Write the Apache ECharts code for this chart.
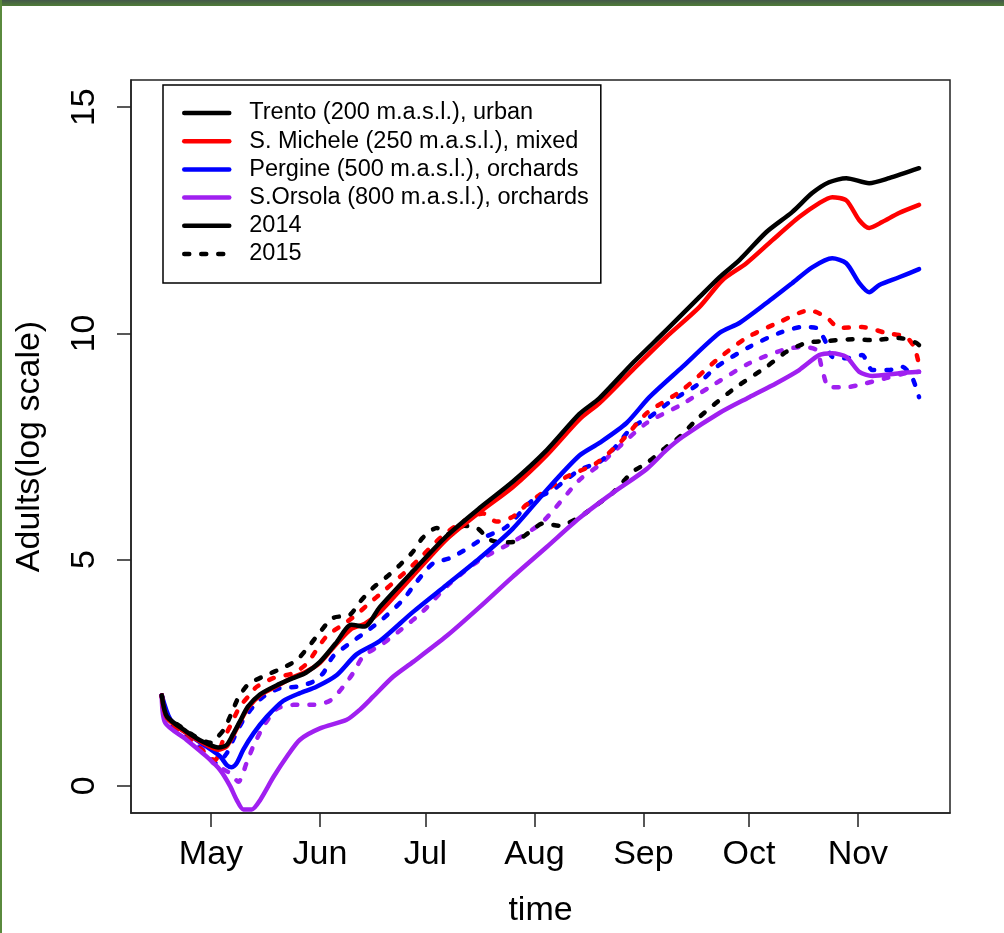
<!DOCTYPE html>
<html>
<head>
<meta charset="utf-8">
<title>Adults (log scale) over time</title>
<script src="https://cdn.jsdelivr.net/npm/echarts@6/dist/echarts.min.js"></script>
<style>
  html, body { margin: 0; padding: 0; background: #ffffff; }
  #chart { width: 1004px; height: 933px; }
  .frame-top { position: absolute; left: 0; top: 0; width: 1004px; height: 6px;
               background: linear-gradient(#44584a, #4f7c38); }
  .frame-left { position: absolute; left: 0; top: 0; width: 2px; height: 933px; background: #5a8a3d; }
</style>
</head>
<body>
<div id="chart"></div>
<div class="frame-top"></div>
<div class="frame-left"></div>
<script>
// x values are day of year, y values are log adult counts
const monthStarts = [121, 152, 182, 213, 244, 274, 305];
const monthLabels = ['May', 'Jun', 'Jul', 'Aug', 'Sep', 'Oct', 'Nov'];
const yTicks = [0, 5, 10, 15];

const siteNames = [
  'Trento (200 m.a.s.l.), urban',
  'S. Michele (250 m.a.s.l.), mixed',
  'Pergine (500 m.a.s.l.), orchards',
  'S.Orsola (800 m.a.s.l.), orchards'
];
const yearNames = ['2014', '2015'];
const siteColors = ['#000000', '#ff0000', '#0000ff', '#a020f0'];

const trento2014 = [[107,2.0],[108.5,1.53],[114,1.2],[118.6,0.98],[123,0.85],[125.4,0.9],[127.2,1.13],[129.2,1.42],[131.5,1.75],[134.9,2.02],[139.6,2.22],[144.3,2.38],[148,2.5],[152,2.74],[156.5,3.15],[160.9,3.56],[164.7,3.52],[169,3.95],[178.4,4.74],[188,5.52],[197.4,6.14],[206.8,6.72],[216.5,7.42],[225.8,8.22],[231.5,8.57],[240.9,9.34],[250.5,10.07],[259.9,10.8],[265.6,11.24],[271.3,11.62],[279,12.24],[286.3,12.68],[292,13.1],[296.8,13.34],[301.7,13.43],[308.2,13.32],[313.9,13.43],[322.4,13.65]];
const smichele2014 = [[107,2.0],[108.5,1.5],[114,1.17],[118.6,0.95],[123,0.8],[125.4,0.87],[127.2,1.1],[129.2,1.4],[131.5,1.72],[134.9,2.0],[139.6,2.2],[144.3,2.4],[148,2.52],[152,2.72],[156.5,3.12],[160.9,3.47],[164.7,3.58],[169,3.84],[178.4,4.64],[188,5.45],[197.4,6.05],[206.8,6.6],[216.5,7.31],[225.8,8.1],[231.5,8.46],[240.9,9.19],[250.5,9.92],[259.9,10.58],[266.5,11.18],[273.3,11.55],[280.7,12.06],[288.3,12.57],[294,12.88],[297.7,13.01],[301.7,12.94],[305.4,12.5],[308.2,12.33],[311.9,12.46],[316.7,12.66],[322.4,12.84]];
const pergine2014 = [[107,2.0],[109.5,1.46],[114,1.17],[119.7,0.87],[123.6,0.65],[125.5,0.46],[126.9,0.41],[128.3,0.5],[130.2,0.8],[133.1,1.16],[136.9,1.53],[141.6,1.88],[146.3,2.05],[151,2.19],[156.8,2.45],[162.3,2.9],[169,3.2],[178.4,3.84],[188,4.44],[197.4,5.03],[206.8,5.68],[216.5,6.54],[225.8,7.3],[231.5,7.58],[239.2,8.02],[245.7,8.59],[255.1,9.26],[265.6,10.01],[271.3,10.23],[279,10.67],[286.3,11.11],[292,11.46],[297.7,11.66],[301.7,11.55],[305.4,11.11],[308.2,10.91],[311.1,11.07],[316.7,11.24],[322.4,11.42]];
const orsola2014 = [[107,2.0],[108,1.39],[114,1.02],[119.7,0.65],[123.6,0.35],[126.4,0.0],[128.3,-0.31],[130.2,-0.52],[132.6,-0.52],[135,-0.31],[138.8,0.2],[142.6,0.65],[146.3,1.02],[152,1.27],[159.6,1.46],[163.3,1.68],[167.1,1.97],[172.8,2.41],[178.5,2.74],[188,3.31],[197.4,3.95],[206.8,4.62],[216.5,5.28],[225.8,5.92],[235.2,6.47],[244.9,7.0],[250.5,7.42],[255.1,7.71],[265.6,8.24],[274.1,8.59],[281.8,8.9],[288.3,9.19],[294,9.52],[297.7,9.56],[301.7,9.48],[305.4,9.15],[309.1,9.06],[316.7,9.12],[322.4,9.15]];

const trento2015 = [[107,2.0],[108.5,1.55],[114,1.22],[118,1.02],[121,0.95],[123,1.09],[124.9,1.27],[126.8,1.6],[128.8,1.95],[131.7,2.25],[136.8,2.45],[141.5,2.61],[145.4,2.78],[149.1,3.11],[152,3.4],[155.7,3.71],[160.5,3.78],[163.3,4.06],[167,4.37],[171,4.62],[174.7,4.88],[178.4,5.17],[181.2,5.48],[185.2,5.7],[188.9,5.55],[193,5.75],[197,5.68],[200,5.45],[204,5.38],[207.5,5.4],[211.5,5.6],[215.5,5.8],[220,5.75],[225.8,5.94],[230.5,6.2],[235.2,6.47],[240.9,6.94],[244.9,7.13],[250.5,7.49],[254.2,7.71],[259.9,8.15],[269.3,8.75],[279,9.26],[284.6,9.59],[290.3,9.79],[296,9.83],[303.4,9.87],[309.1,9.85],[316.7,9.9],[321.6,9.79],[322.4,9.74]];
const smichele2015 = [[107,2.0],[108.5,1.5],[114,1.1],[118,0.82],[122.1,0.57],[124.5,1.02],[126.4,1.31],[129.2,1.75],[131.9,2.0],[134,2.19],[138.7,2.38],[144.4,2.49],[148.2,2.7],[153.8,3.3],[158.5,3.56],[162.3,3.78],[166.1,4.04],[169.9,4.29],[173.7,4.55],[177.5,4.81],[181.3,5.1],[185.1,5.4],[188.9,5.65],[193.6,5.88],[198.4,6.02],[202.2,5.84],[206.9,5.95],[210.7,6.21],[214.5,6.43],[222.1,6.83],[230.6,7.13],[238,7.64],[245,8.24],[255.1,8.75],[264.8,9.41],[273.3,9.9],[282.7,10.25],[291.2,10.51],[296,10.36],[299.7,10.12],[306.2,10.14],[313,10.01],[318.7,9.92],[321,9.7],[322.1,9.41]];
const pergine2015 = [[107,2.0],[108.5,1.45],[114,1.1],[119,0.75],[122.6,0.5],[125.5,0.72],[127.3,1.02],[130.2,1.46],[133,1.75],[135.9,1.97],[140.6,2.16],[145.3,2.19],[150,2.3],[153,2.5],[155.7,2.86],[160.5,3.15],[165.2,3.41],[170,3.7],[175.6,4.11],[179.4,4.5],[184.2,4.92],[188.9,5.03],[194,5.25],[199,5.5],[205,5.72],[212,6.28],[218.2,6.54],[225.8,6.98],[231.5,7.16],[235.2,7.42],[240.9,7.93],[245.7,8.15],[252.3,8.53],[259.1,8.85],[264.8,9.26],[274.1,9.7],[282.7,10.01],[289.2,10.14],[293.2,10.12],[296,9.79],[297.7,9.48],[301.7,9.45],[306.2,9.52],[309.1,9.19],[313.9,9.19],[317.6,9.26],[320.4,9.03],[322.4,8.59]];
const orsola2015 = [[107,2.0],[108.5,1.4],[114,1.05],[118.8,0.8],[121.7,0.5],[126.4,0.28],[128.8,0.09],[131.1,0.5],[133,0.87],[135.9,1.31],[139.7,1.7],[144.4,1.79],[150.1,1.79],[154.8,1.88],[158.6,2.19],[161.4,2.49],[164.3,2.86],[170,3.15],[175,3.45],[181.2,3.85],[188.5,4.44],[197.4,4.99],[207.5,5.42],[215.5,5.85],[225.8,6.76],[231.5,7.09],[235.2,7.36],[244.9,8.02],[254.2,8.4],[262.8,8.81],[274.1,9.34],[283.5,9.63],[289.2,9.7],[293.2,9.63],[294.9,9.19],[296.8,8.81],[301.7,8.81],[307.4,8.9],[313,9.01],[318.7,9.12],[322.4,9.15]];

const FONT = 'Liberation Sans, Arial, Helvetica, sans-serif';
const LINE_W = 4.5;
const DASH = [5, 12];

function curve(name, data, color, dashed, z) {
  return {
    type: 'line',
    name: name,
    data: data,
    z: z,
    symbol: 'none',
    smooth: 0.25,
    lineStyle: {
      color: color,
      width: LINE_W,
      type: dashed ? DASH : 'solid',
      cap: 'round',
      join: 'round'
    },
    itemStyle: { color: color },
    emphasis: { disabled: true }
  };
}

// 2014 series come first so each legend entry takes its solid style
const series = [
  curve(siteNames[0], trento2014, siteColors[0], false, 9),
  curve(siteNames[1], smichele2014, siteColors[1], false, 8),
  curve(siteNames[2], pergine2014, siteColors[2], false, 7),
  curve(siteNames[3], orsola2014, siteColors[3], false, 6),
  curve(siteNames[0], trento2015, siteColors[0], true, 5),
  curve(siteNames[1], smichele2015, siteColors[1], true, 4),
  curve(siteNames[2], pergine2015, siteColors[2], true, 3),
  curve(siteNames[3], orsola2015, siteColors[3], true, 2),
  // year keys for the legend only
  curve(yearNames[0], [], '#000000', false, 1),
  curve(yearNames[1], [], '#000000', true, 1)
];

const chart = echarts.init(document.getElementById('chart'), null, { renderer: 'canvas' });
chart.setOption({
  animation: false,
  backgroundColor: '#ffffff',
  textStyle: { fontFamily: FONT, color: '#000' },
  grid: {
    left: 131, top: 80, right: 54, bottom: 120,
    show: true, borderColor: '#222', borderWidth: 1.5, backgroundColor: 'transparent'
  },
  legend: {
    data: siteNames.concat(yearNames),
    orient: 'vertical',
    left: 163,
    top: 85,
    padding: [14, 12, 15, 19],
    itemWidth: 45,
    itemHeight: 14,
    itemGap: 0.2,
    borderColor: '#000',
    borderWidth: 1.5,
    backgroundColor: '#fff',
    itemStyle: { opacity: 0 },
    lineStyle: { width: 4.5, cap: 'round' },
    textStyle: {
      fontFamily: FONT, fontSize: 23.5, color: '#000',
      lineHeight: 28, padding: [0, 0, 0, 15]
    }
  },
  xAxis: {
    type: 'value',
    min: 98.25,
    max: 331.2,
    name: 'time',
    nameLocation: 'middle',
    nameGap: 81,
    nameTextStyle: { fontFamily: FONT, fontSize: 34, lineHeight: 34, color: '#000' },
    axisLine: { show: true, onZero: false, lineStyle: { color: '#222', width: 1.5 } },
    axisTick: { show: true, length: 14, lineStyle: { color: '#222', width: 1.5 }, customValues: monthStarts },
    axisLabel: {
      customValues: monthStarts,
      margin: 25,
      fontFamily: FONT, fontSize: 34, lineHeight: 34, color: '#000',
      formatter: function (v) {
        const i = monthStarts.indexOf(Math.round(v));
        return i >= 0 ? monthLabels[i] : '';
      }
    },
    splitLine: { show: false }
  },
  yAxis: {
    type: 'value',
    min: -0.6,
    max: 15.6,
    name: 'Adults(log scale)',
    nameLocation: 'middle',
    nameGap: 84,
    nameRotate: 90,
    nameTextStyle: { fontFamily: FONT, fontSize: 34, lineHeight: 34, color: '#000' },
    axisLine: { show: true, onZero: false, lineStyle: { color: '#222', width: 1.5 } },
    axisTick: { show: true, length: 14, lineStyle: { color: '#222', width: 1.5 }, customValues: yTicks },
    axisLabel: {
      customValues: yTicks,
      rotate: 90,
      margin: 29,
      fontFamily: FONT, fontSize: 34, lineHeight: 34, color: '#000'
    },
    splitLine: { show: false }
  },
  series: series
});
</script>
</body>
</html>
